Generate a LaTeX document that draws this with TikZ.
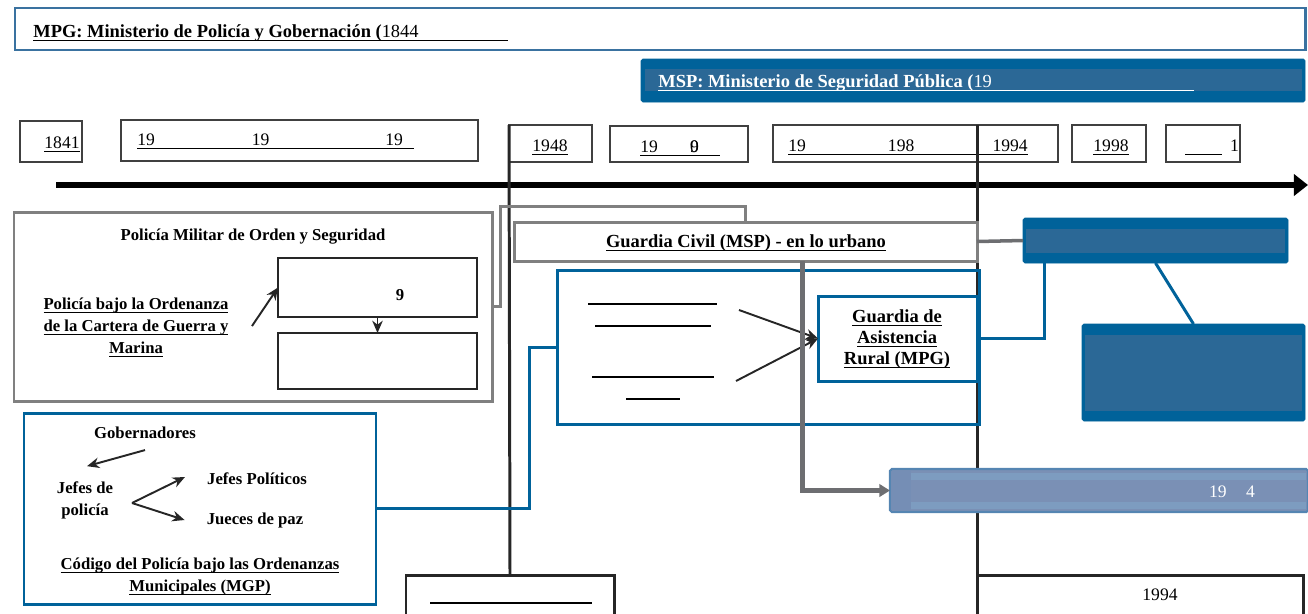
\documentclass[tikz,border=0pt]{standalone}
\usepackage{fontspec}
\setmainfont{Liberation Serif}
\usetikzlibrary{positioning,calc,arrows.meta}
\definecolor{mpgblue}{HTML}{3A72A0}
\definecolor{navy}{HTML}{00629A}
\definecolor{band}{HTML}{2B6896}
\definecolor{frame}{HTML}{808080}
\definecolor{linkgrey}{HTML}{6D6E71}
\definecolor{pale}{HTML}{7A90B5}
\definecolor{paleedge}{HTML}{5585B2}
\definecolor{paleband}{HTML}{7D9CC0}
% underline of given width, text on top
\newcommand{\ulto}[2]{\rlap{\rule[-2pt]{#2}{0.5pt}}#1}
\newcommand{\ul}[1]{\setbox0\hbox{#1}\rlap{\rule[-2pt]{\wd0}{0.5pt}}\box0}

\begin{document}
\begin{tikzpicture}[x=0.02cm, y=-0.02cm,
    box/.style 2 args={minimum width=#1*0.02cm, minimum height=#2*0.02cm, inner sep=0pt, outer sep=0pt, anchor=north west},
    yearbox/.style={draw=black!75, line width=0.6pt},
    greyframe/.style={draw=frame, line width=1.7pt},
    blueframe/.style={draw=navy, line width=1.7pt},
    navybox/.style={fill=navy, draw=navy, rounded corners=1pt},
    bold/.style={font=\bfseries\fontsize{9.5}{12.5}\selectfont, align=center},
    big/.style={font=\bfseries\fontsize{10.5}{12}\selectfont, align=center},
    yr/.style={font=\fontsize{10}{12}\selectfont, anchor=base},
    yrl/.style={yr, anchor=base west, inner sep=0pt},
    arr/.style={-{Stealth[length=7pt,width=6pt]}, line width=1.1pt, draw=black!85},
    link/.style={draw=navy, line width=1.7pt},
    glink/.style={draw=linkgrey, line width=2pt}]
    \useasboundingbox (0,0) rectangle (1308,613);

    % ministries
    \node[greyframe, draw=mpgblue, box={1290}{42}] (mpg) at (15,8) {};
    \node[anchor=base west, inner sep=0pt, font=\bfseries\fontsize{10.5}{12}\selectfont] (mpgt) at (33,37)
        {\ulto{MPG: Ministerio de Policía y Gobernación (\mdseries 1844}{270.4pt}};
    \node[navybox, box={664}{43}] (msp) at (641,59) {};
    \fill[band] ($(msp.north west)+(4,10)$) rectangle ($(msp.south east)+(-3,-11)$);
    \node[anchor=base west, inner sep=0pt, white, font=\bfseries\fontsize{10.5}{12}\selectfont] (mspt) at (658,87)
        {\ulto{MSP: Ministerio de Seguridad Pública (\mdseries 19}{305pt}};

    % years
    \node[yearbox, box={62}{41}] (y1) at (20,121) {};
    \node[yr] (y1t) at (62,148) {\ul{1841}};
    \node[yearbox, box={357}{41}] (y2) at (121,120) {};
    \node[yrl] (y2t) at (137,145)
        {\ulto{\makebox[65.2pt][l]{19}\makebox[76pt][l]{19}19}{157.6pt}};
    \node[yearbox, box={83}{37}] (y3) at (509,125) {};
    \node[yr] (y3t) at (550,151) {\ul{1948}};
    \node[yearbox, box={138}{36}] (y4) at (610,126) {};
    \node[yrl] (y4t) at (640,152) {\ulto{\makebox[28.3pt][l]{19}\rlap{0}9}{45.4pt}};
    \node[yearbox, box={285}{37}] (y5) at (773,125) {};
    \node[yrl] (y5t) at (788,151)
        {\ulto{\makebox[56.7pt][l]{19}\makebox[59.5pt][l]{198}1994}{136.6pt}};
    \node[yearbox, box={74}{37}] (y6) at (1072,125) {};
    \node[yr] (y6t) at (1111,151) {\ul{1998}};
    \node[yearbox, box={74}{37}] (y7) at (1166,125) {};
    \node[yrl] (y7t) at (1185,151) {\ulto{\hspace*{25.5pt}1}{21pt}};

    % time axis
    \coordinate (tl0) at (56,185);
    \coordinate (tl1) at (1308,185);
    \draw[line width=3.4pt, -{Triangle[length=8pt,width=12pt]}] (tl0) -- (tl1);

    % bottom boxes and the two cuts
    \node[draw=black!85, line width=1.7pt, box={208}{65}] (bl) at (406,575) {};
    \draw[line width=0.6pt] (430,603) -- (592,603);
    \node[draw=black!85, line width=1.7pt, box={326}{65}] (br) at (977,575) {};
    \node[yr] (brt) at (1160,600) {1994};
    \coordinate (v1) at (509,125);
    \coordinate (v2) at (977,125);
    \draw[line width=1.7pt, black!85] (v1) -- (bl.north);
    \draw[line width=1.7pt, black!85] (v2) -- (br.north west);

    % military police
    \node[greyframe, box={478}{189}] (pmos) at (14,212) {};
    \node[bold] (pmost) at (253,237) {Policía Militar de Orden y Seguridad};
    \node[yearbox, draw=black!85, box={199}{59}] (pb1) at (278,258) {};
    \node[bold] (pb1t) at (400,295) {9};
    \node[yearbox, draw=black!85, box={199}{56}] (pb2) at (278,333) {};
    \draw[arr] (pb1.south) -- (pb2.north);
    \node[bold] (pbo) at (136,327)
        {\ul{Policía bajo la Ordenanza}\\\ul{de la Cartera de Guerra y}\\\ul{Marina}};
    \coordinate (a0) at (252,326);
    \draw[arr] (a0) -- (pb1.west);

    % civil guard
    \node[greyframe, box={463}{39}] (gc) at (514,222) {};
    \node[big] (gct) at (746,243) {\ul{Guardia Civil (MSP) - en lo urbano}};
    \draw[greyframe] (pmos.east) -- ++(8,0) |- ($(gc.north)+(0,-16)$) -- (gc.north);

    % rural guard
    \node[blueframe, box={422}{154}] (bb) at (557,270) {};
    \draw[line width=0.6pt] (588,304) -- (717,304);
    \draw[line width=1pt] (595,326) -- (711,326);
    \draw[line width=1pt] (592,377) -- (714,377);
    \draw[line width=1pt] (626,399) -- (680,399);
    \node[blueframe, box={159}{85}] (gar) at (818,296) {};
    \node[big] (gart) at (897,339)
        {\ul{Guardia de}\\\ul{Asistencia}\\\ul{Rural (MPG)}};
    \coordinate (c1) at (739,310);
    \coordinate (c2) at (736,381);
    \draw[arr] (c1) -- (gar.west);
    \draw[arr] (c2) -- (gar.west);

    % later bodies
    \node[navybox, box={265}{45}] (rb1) at (1023,218) {};
    \fill[band] ($(rb1.north west)+(3,11)$) rectangle ($(rb1.south east)+(-3,-10)$);
    \node[navybox, box={223}{97}] (rb2) at (1082,324) {};
    \fill[band] ($(rb2.north west)+(3,11)$) rectangle ($(rb2.south east)+(-3,-10)$);
    \draw[link] (rb1.south) -- (rb2.north);
    \draw[glink] (gc.east) -- (rb1.west);
    \draw[link] (gar.east) -| ($(rb1.south west)+(21,0)$);

    \node[fill=pale, draw=paleedge, line width=1.2pt, rounded corners=1pt, box={418}{43}] (lb) at (890,469) {};
    \fill[paleband] ($(lb.north west)+(2,4)$) rectangle ($(lb.north east)+(-2,11)$);
    \fill[paleband] ($(lb.south west)+(2,-10)$) rectangle ($(lb.south east)+(-2,-3)$);
    \fill[pale!85!paleedge] ($(lb.north west)+(2,2)$) rectangle ($(lb.south west)+(21,-2)$);
    \node[yr, white] (lbt) at (1232,497) {\makebox[21pt][l]{19}4};
    \draw[glink, line width=2.3pt, -{Triangle[length=6pt,width=7pt]}] ($(gc.south)+(57,0)$) |- (lb.west);

    % municipal police
    \node[blueframe, box={352}{191}] (gob) at (24,413) {};
    \draw[link] (bb.west) -- ++(-28,0) |- (gob.east);
    \node[bold] (gobt) at (145,433) {Gobernadores};
    \node[bold] (jp) at (85,500) {Jefes de\\policía};
    \node[bold] (jpol) at (257,479) {Jefes Políticos};
    \node[bold] (jpaz) at (255,520) {Jueces de paz};
    \node[bold] (cod) at (200,576)
        {\ul{Código del Policía bajo las Ordenanzas}\\\ul{Municipales (MGP)}};
    \coordinate (fk) at (132,503);
    \draw[arr] ($(gobt.south)+(0,5)$) -- ($(jp.north)+(2,-9)$);
    \draw[arr] (fk) -- ($(jpol.west)+(-16,-2)$);
    \draw[arr] (fk) -- ($(jpaz.west)+(-16,0)$);
\end{tikzpicture}
\end{document}
